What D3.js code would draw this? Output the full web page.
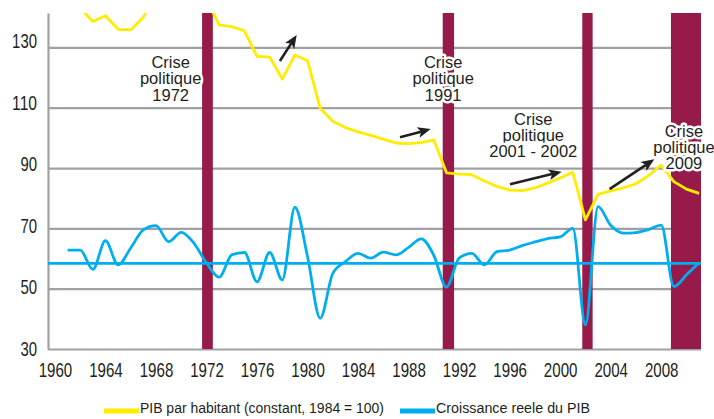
<!DOCTYPE html>
<html>
<head>
<meta charset="utf-8">
<script src="https://cdn.jsdelivr.net/npm/d3@7"></script>
<style>
  body { margin: 0; background: #fff; }
  svg { display: block; }
</style>
</head>
<body>
<div id="chart"></div>
<script>
// Years and series
const years = d3.range(1961, 2012);

const pibHabitant = [
  148, 143, 138.6, 140.5, 136, 135.8, 140, 148, 150, 151, 150, 146,
  137.5, 136.9, 135.5, 127, 126.8, 119.5, 127.5, 125.6, 109.8, 105.5,
  103.4, 102, 100.8, 99.6, 98.3, 98.1, 98.4, 99.3, 88.4, 88, 87.8,
  85.7, 83.9, 82.7, 82.5, 83.4, 85, 86.7, 88.6, 72.8, 81.3, 82.4,
  83.4, 84.8, 87.5, 91, 85.5, 83, 81.6
];

const croissance = [
  62.8, 62.8, 56.4, 65.9, 57.9, 63.5, 69.5, 70.9, 65.6, 68.7, 65.1, 58.5,
  53.8, 61.2, 62, 52.3, 62, 52.9, 77, 60.6, 40.2, 55.1, 59, 61.7,
  60.1, 62.1, 61.2, 63.7, 66.5, 61, 50.5, 60.1, 61.7, 57.9, 62.3, 62.8,
  64.3, 65.5, 66.6, 67.2, 70, 38, 77.2, 71, 68.4, 68.6, 69.6, 71.1,
  50.7, 54.6, 58.6
];

const croissanceRef = 58.4; // horizontal reference line

// political crisis periods (in years)
const crisisStart = [1971.65, 1990.7, 2001.75, 2008.77];
const crisisEnd = [1972.5, 1991.6, 2002.57, 2011.15];
const crisisLabels = [
  ["Crise", "politique", "1972"],
  ["Crise", "politique", "1991"],
  ["Crise", "politique", "2001 - 2002"],
  ["Crise", "politique", "2009"]
];
const labelYear = [1969.16, 1990.74, 1997.87, 2009.8];
const labelValue = [123.1, 123.1, 104.3, 100.4];

// arrows: [year, value] from -> to
const arrows = [
  [[1977.81, 125.5], [1979.14, 134.1]],
  [[1987.32, 100.2], [1989.75, 102.9]],
  [[1996.03, 84.6], [2000.12, 88.8]],
  [[2003.91, 83.0], [2007.45, 92.9]]
];

const xTicks = d3.range(1960, 2009, 4);
const yTicks = [30, 50, 70, 90, 110, 130];

const legendLabels = ["PIB par habitant (constant, 1984 = 100)", "Croissance reele du PIB"];

// dimensions
const width = 714, height = 419;
const plot = { left: 48, right: 701, top: 13, bottom: 349 };

const yellow = "#ffec00";
const blue = "#00aeef";
const maroon = "#961b4b";
const grid = "#a0a1a4";
const ink = "#231f20";
const narrow = "'Liberation Sans Narrow', 'Arial Narrow', 'Liberation Sans', Arial, sans-serif";
const sans = "'Liberation Sans', Arial, sans-serif";

const svg = d3.select("#chart")
  .append("svg")
  .attr("width", width)
  .attr("height", height);

const x = d3.scaleLinear()
  .domain([1959.45, 2011.15])
  .range([plot.left, plot.right]);

const y = d3.scaleLinear()
  .domain([30, 141.4])
  .range([plot.bottom, plot.top]);

// clip for lines running off the top
svg.append("defs").append("clipPath")
  .attr("id", "clip")
  .append("rect")
  .attr("x", plot.left)
  .attr("y", plot.top)
  .attr("width", plot.right - plot.left)
  .attr("height", plot.bottom - plot.top);

// Y axis with gridlines
const yAxis = svg.append("g")
  .attr("transform", `translate(${plot.left},0)`)
  .call(d3.axisLeft(y).tickValues(yTicks).tickSize(-(plot.right - plot.left)).tickSizeOuter(0).tickPadding(11));

yAxis.select(".domain")
  .attr("stroke", grid)
  .attr("stroke-width", 2.2);
yAxis.selectAll(".tick line")
  .attr("stroke", grid)
  .attr("stroke-width", 2.2);
yAxis.selectAll(".tick text")
  .attr("font-family", narrow)
  .attr("font-size", 21)
  .attr("fill", ink)
  .attr("dy", (d) => 6.5 - (d - 30) * 0.06)
  .attr("textLength", (d) => String(d).length * 8.3)
  .attr("lengthAdjust", "spacingAndGlyphs");

// X axis labels
const xAxis = svg.append("g")
  .attr("transform", `translate(0,${plot.bottom})`)
  .call(d3.axisBottom(x).tickValues(xTicks).tickSize(0).tickFormat(d3.format("d")));

xAxis.select(".domain").remove();
xAxis.selectAll(".tick text")
  .attr("font-family", narrow)
  .attr("font-size", 21)
  .attr("fill", ink)
  .attr("y", 27.7)
  .attr("dy", 0)
  .attr("textLength", 33.6)
  .attr("lengthAdjust", "spacingAndGlyphs");

// crisis bars
svg.append("g")
  .selectAll("rect")
  .data(crisisStart)
  .enter()
  .append("rect")
  .attr("x", (d) => x(d))
  .attr("y", plot.top)
  .attr("width", (d, i) => x(crisisEnd[i]) - x(d))
  .attr("height", plot.bottom - plot.top)
  .attr("fill", maroon);

const lines = svg.append("g").attr("clip-path", "url(#clip)");

// reference line
lines.append("line")
  .attr("x1", plot.left)
  .attr("x2", plot.right)
  .attr("y1", y(croissanceRef))
  .attr("y2", y(croissanceRef))
  .attr("stroke", blue)
  .attr("stroke-width", 2.6);

const smoothLine = d3.line()
  .x((d, i) => x(years[i]))
  .y((d) => y(d))
  .curve(d3.curveMonotoneX);

const straightLine = d3.line()
  .x((d, i) => x(years[i]))
  .y((d) => y(d));

lines.append("path")
  .datum(croissance)
  .attr("fill", "none")
  .attr("stroke", blue)
  .attr("stroke-width", 2.8)
  .attr("stroke-linejoin", "round")
  .attr("d", smoothLine);

lines.append("path")
  .datum(pibHabitant)
  .attr("fill", "none")
  .attr("stroke", yellow)
  .attr("stroke-width", 2.8)
  .attr("stroke-linejoin", "round")
  .attr("d", straightLine);

// arrows
const arrowG = svg.append("g");
arrows.forEach(([from, to]) => {
  const x0 = x(from[0]), y0 = y(from[1]);
  const x1 = x(to[0]), y1 = y(to[1]);
  const len = Math.hypot(x1 - x0, y1 - y0);
  const ux = (x1 - x0) / len, uy = (y1 - y0) / len;
  const px = -uy, py = ux;
  const head = 13, half = 5.5;
  const bx = x1 - ux * head, by = y1 - uy * head;
  arrowG.append("line")
    .attr("x1", x0).attr("y1", y0)
    .attr("x2", bx + ux * 3).attr("y2", by + uy * 3)
    .attr("stroke", ink)
    .attr("stroke-width", 2.6);
  arrowG.append("path")
    .attr("d", `M${x1},${y1}L${bx + px * half},${by + py * half}L${bx + ux * 3},${by + uy * 3}L${bx - px * half},${by - py * half}Z`)
    .attr("fill", ink);
});

// crisis labels with white halo
crisisLabels.forEach((lbl, i) => {
  const t = svg.append("text")
    .attr("x", x(labelYear[i]))
    .attr("y", y(labelValue[i]))
    .attr("text-anchor", "middle")
    .attr("font-family", sans)
    .attr("font-size", 16.5)
    .attr("fill", ink)
    .attr("stroke", "#fff")
    .attr("stroke-width", 5)
    .attr("stroke-linejoin", "round")
    .attr("paint-order", "stroke");
  lbl.forEach((s, j) => {
    t.append("tspan")
      .attr("x", x(labelYear[i]))
      .attr("dy", j === 0 ? 0 : 16.3)
      .text(s);
  });
});

// legend
const legend = svg.append("g");
const legendX = [104, 400];
const legendW = [244, 154];
[yellow, blue].forEach((c, i) => {
  legend.append("rect")
    .attr("x", legendX[i])
    .attr("y", 408.5)
    .attr("width", 35)
    .attr("height", 5)
    .attr("fill", c);
  legend.append("text")
    .attr("x", legendX[i] + 36)
    .attr("y", 413.3)
    .attr("font-family", narrow)
    .attr("font-size", 15.5)
    .attr("fill", ink)
    .attr("textLength", legendW[i])
    .attr("lengthAdjust", "spacingAndGlyphs")
    .text(legendLabels[i]);
});
</script>
</body>
</html>
